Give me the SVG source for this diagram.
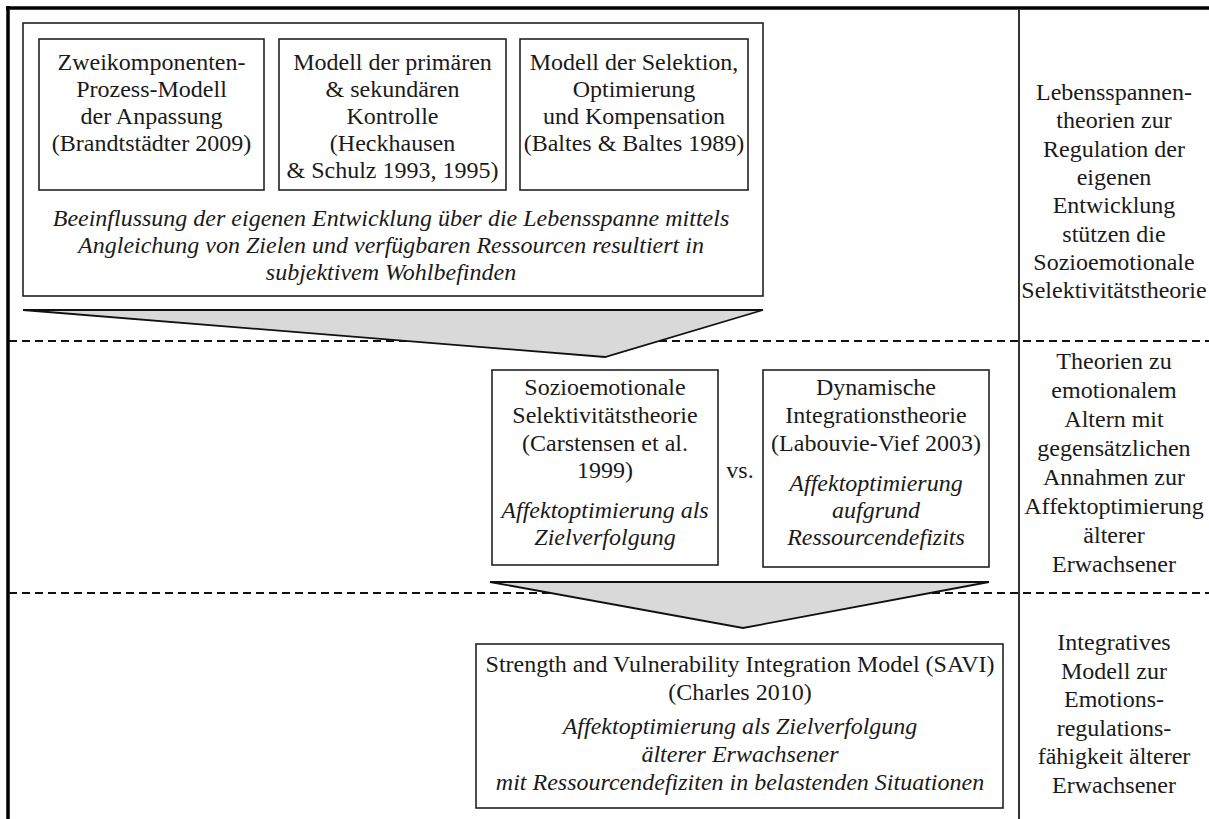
<svg xmlns="http://www.w3.org/2000/svg" width="1209" height="819" viewBox="0 0 1209 819" font-family="'Liberation Serif', 'DejaVu Serif', 'Times New Roman', serif">
<style>
text{font-family:'Liberation Serif','DejaVu Serif','Times New Roman',serif;font-size:24px;fill:#1a1a1a;text-anchor:middle}
.it{font-style:italic}
.box{fill:#fff;stroke:#222;stroke-width:1.6}
.arrow{fill:#d9d9d9;stroke:#111;stroke-width:1.8;stroke-linejoin:miter}
.dash{stroke:#111;stroke-width:2;stroke-dasharray:8 5;fill:none}
.frame{stroke:#000;stroke-width:3.5;fill:none}
.div{stroke:#333;stroke-width:2;fill:none}
</style>
<rect x="0" y="0" width="1209" height="819" fill="#fff"/>
<g id="frame">
<line class="dash" x1="9" y1="341" x2="1209" y2="341"/>
<line class="dash" x1="9" y1="593" x2="1209" y2="593"/>
<line class="frame" x1="6" y1="8" x2="1209" y2="8"/>
<line class="frame" x1="8" y1="6" x2="8" y2="819"/>
<line class="div" x1="1019" y1="9" x2="1019" y2="819"/>
</g>
<g id="connectors">
<polygon class="arrow" points="23,310 763,310 605,357"/>
<polygon class="arrow" points="490,582 989,582 743,628"/>
</g>
<g id="lifespan">
<rect class="box" x="23" y="23" width="740" height="273"/>
<text class="it" x="391" y="226">Beeinflussung der eigenen Entwicklung über die Lebensspanne mittels</text>
<text class="it" x="391" y="253">Angleichung von Zielen und verfügbaren Ressourcen resultiert in</text>
<text class="it" x="391" y="280">subjektivem Wohlbefinden</text>
</g>
<g id="brandtstaedter">
<rect class="box" x="39" y="39" width="225" height="151"/>
<text x="151.5" y="70">Zweikomponenten-</text>
<text x="151.5" y="97">Prozess-Modell</text>
<text x="151.5" y="124">der Anpassung</text>
<text x="151.5" y="151">(Brandtstädter 2009)</text>
</g>
<g id="heckhausen">
<rect class="box" x="279" y="39" width="227" height="151"/>
<text x="392.5" y="70">Modell der primären</text>
<text x="392.5" y="97">&amp; sekundären</text>
<text x="392.5" y="124">Kontrolle</text>
<text x="392.5" y="151">(Heckhausen</text>
<text x="392.5" y="178">&amp; Schulz 1993, 1995)</text>
</g>
<g id="baltes">
<rect class="box" x="520" y="39" width="228" height="151"/>
<text x="634" y="70">Modell der Selektion,</text>
<text x="634" y="97">Optimierung</text>
<text x="634" y="124">und Kompensation</text>
<text x="634" y="151">(Baltes &amp; Baltes 1989)</text>
</g>
<g id="sst">
<rect class="box" x="492" y="370" width="226" height="195"/>
<text x="605" y="395">Sozioemotionale</text>
<text x="605" y="423">Selektivitätstheorie</text>
<text x="605" y="451">(Carstensen et al.</text>
<text x="605" y="478">1999)</text>
<text class="it" x="605" y="518">Affektoptimierung als</text>
<text class="it" x="605" y="545">Zielverfolgung</text>
</g>
<g id="vs">
<text x="740" y="478">vs.</text>
</g>
<g id="dit">
<rect class="box" x="763" y="370" width="226" height="197"/>
<text x="876" y="395">Dynamische</text>
<text x="876" y="423">Integrationstheorie</text>
<text x="876" y="451">(Labouvie-Vief 2003)</text>
<text class="it" x="876" y="491">Affektoptimierung</text>
<text class="it" x="876" y="518">aufgrund</text>
<text class="it" x="876" y="545">Ressourcendefizits</text>
</g>
<g id="savi">
<rect class="box" x="476" y="644" width="527" height="164"/>
<text x="740" y="672">Strength and Vulnerability Integration Model (SAVI)</text>
<text x="740" y="700">(Charles 2010)</text>
<text class="it" x="740" y="734">Affektoptimierung als Zielverfolgung</text>
<text class="it" x="740" y="762">älterer Erwachsener</text>
<text class="it" x="740" y="790">mit Ressourcendefiziten in belastenden Situationen</text>
</g>
<g id="label-lifespan">
<text x="1114" y="100">Lebensspannen-</text>
<text x="1114" y="128.3">theorien zur</text>
<text x="1114" y="156.6">Regulation der</text>
<text x="1114" y="184.9">eigenen</text>
<text x="1114" y="213.2">Entwicklung</text>
<text x="1114" y="241.5">stützen die</text>
<text x="1114" y="269.8">Sozioemotionale</text>
<text x="1114" y="298">Selektivitätstheorie</text>
</g>
<g id="label-emotional">
<text x="1114" y="369">Theorien zu</text>
<text x="1114" y="398">emotionalem</text>
<text x="1114" y="427">Altern mit</text>
<text x="1114" y="456">gegensätzlichen</text>
<text x="1114" y="485">Annahmen zur</text>
<text x="1114" y="514">Affektoptimierung</text>
<text x="1114" y="543">älterer</text>
<text x="1114" y="572">Erwachsener</text>
</g>
<g id="label-integrative">
<text x="1114" y="650">Integratives</text>
<text x="1114" y="678.5">Modell zur</text>
<text x="1114" y="707">Emotions-</text>
<text x="1114" y="735.5">regulations-</text>
<text x="1114" y="764">fähigkeit älterer</text>
<text x="1114" y="792.5">Erwachsener</text>
</g>
</svg>
